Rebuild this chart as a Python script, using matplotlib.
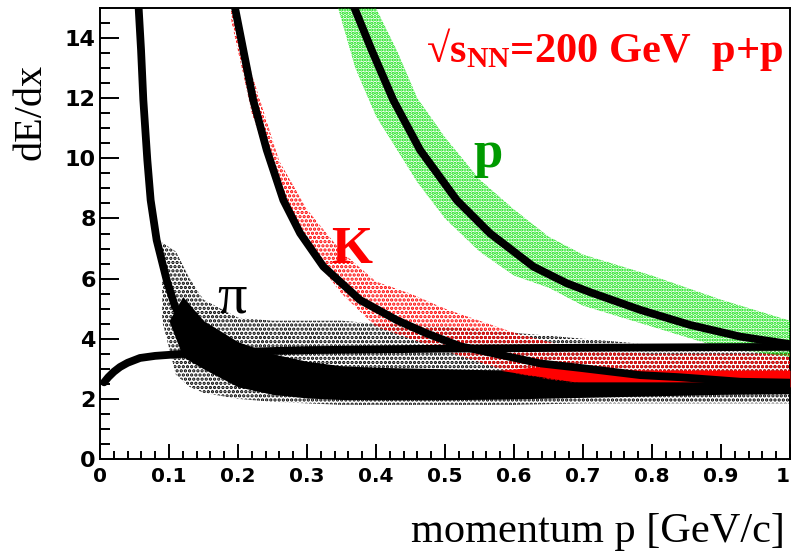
import matplotlib
matplotlib.use("Agg")
import matplotlib.pyplot as plt
from matplotlib.ticker import MultipleLocator, FuncFormatter

# ---------------- data ----------------
# expected dE/dx curves (momentum GeV/c, dE/dx)
e_p = [0.006, 0.012, 0.02, 0.029, 0.04, 0.058, 0.08, 0.116, 0.193, 0.30, 0.50, 0.70, 1.00]
e_y = [2.55, 2.72, 2.90, 3.06, 3.20, 3.36, 3.43, 3.49, 3.56, 3.62, 3.67, 3.70, 3.73]

pi_p = [0.0555, 0.0595, 0.0628, 0.0686, 0.0734, 0.0821, 0.0966, 0.1087, 0.1256, 0.140,
        0.155, 0.175, 0.20, 0.25, 0.30, 0.40, 0.50, 0.70, 1.00]
pi_y = [15.2, 13.6, 11.94, 9.94, 8.61, 7.28, 5.95, 5.07, 4.41, 4.07,
        3.72, 3.35, 3.05, 2.78, 2.62, 2.50, 2.45, 2.42, 2.42]

k_p = [0.194, 0.2077, 0.222, 0.2416, 0.2657, 0.290, 0.3237, 0.3768, 0.430, 0.473,
       0.522, 0.638, 0.696, 0.783, 0.84, 0.928, 1.00]
k_y = [15.2, 13.6, 11.94, 10.28, 8.61, 7.51, 6.40, 5.29, 4.62, 4.18,
       3.75, 3.18, 3.03, 2.79, 2.72, 2.57, 2.54]

pr_p = [0.367, 0.3937, 0.425, 0.4638, 0.517, 0.565, 0.628, 0.676, 0.710, 0.783,
        0.855, 0.928, 1.00]
pr_y = [15.1, 13.6, 11.94, 10.28, 8.61, 7.51, 6.40, 5.85, 5.55, 4.96,
        4.46, 4.07, 3.82]

# measured bands (lower / upper edges of the point clouds)
pib_p = [0.09, 0.11, 0.13, 0.15, 0.20, 0.25, 0.30, 0.35, 0.40, 0.50, 0.60, 0.70, 0.80, 0.90, 1.00]
pi_halo_lo = [4.6, 2.8, 2.4, 2.2, 2.0, 1.9, 1.85, 1.8, 1.8, 1.8, 1.8, 1.85, 1.85, 1.85, 1.85]
pi_halo_hi = [7.2, 6.9, 6.0, 5.3, 4.7, 4.6, 4.6, 4.6, 4.5, 4.4, 4.2, 4.0, 3.8, 3.6, 3.6]
pic_p = [0.10, 0.12, 0.15, 0.20, 0.25, 0.30, 0.35, 0.40, 0.50, 0.60, 0.70, 0.80, 0.90, 1.00]
pi_core_lo = [4.6, 3.4, 3.0, 2.4, 2.15, 2.03, 1.98, 1.97, 1.97, 2.0, 2.05, 2.1, 2.15, 2.17]
pi_core_hi = [4.6, 5.4, 4.6, 3.9, 3.5, 3.25, 3.1, 3.05, 3.0, 2.95, 2.85, 2.75, 2.7, 2.7]

kb_p = [0.19, 0.22, 0.26, 0.30, 0.35, 0.40, 0.45, 0.50, 0.60, 0.70, 0.80, 0.90, 1.00]
k_lo = [14.6, 11.5, 8.8, 7.0, 5.5, 4.4, 4.0, 3.6, 2.85, 2.45, 2.38, 2.35, 2.35]
k_hi = [15.5, 12.8, 9.9, 8.3, 6.9, 5.9, 5.5, 5.0, 4.2, 3.6, 3.5, 3.5, 3.5]
kc_p = [0.58, 0.65, 0.72, 0.80, 0.90, 1.00]
kc_lo = [2.95, 2.7, 2.45, 2.42, 2.4, 2.4]
kc_hi = [2.95, 3.1, 3.0, 2.95, 2.95, 2.95]

pb_p = [0.345, 0.37, 0.40, 0.43, 0.46, 0.50, 0.55, 0.60, 0.65, 0.70, 0.80, 0.90, 1.00]
p_lo = [15.0, 13.0, 11.4, 10.3, 9.2, 8.0, 6.9, 6.1, 5.7, 5.1, 4.4, 3.7, 3.4]
p_hi = [15.5, 15.4, 15.0, 13.6, 12.0, 10.7, 9.3, 8.3, 7.4, 6.8, 6.1, 5.3, 4.6]

x_ticks = [0, 0.1, 0.2, 0.3, 0.4, 0.5, 0.6, 0.7, 0.8, 0.9, 1.0]
y_ticks = [0, 2, 4, 6, 8, 10, 12, 14]

# ---------------- figure ----------------
plt.rcParams['hatch.linewidth'] = 1.6
plt.rcParams['mathtext.fontset'] = 'custom'
plt.rcParams['mathtext.rm'] = 'Liberation Serif:bold'
plt.rcParams['mathtext.it'] = 'Liberation Serif:bold'
plt.rcParams['mathtext.bf'] = 'Liberation Serif:bold'

fig = plt.figure(figsize=(7.93, 5.52), dpi=100)
W, H = 793, 552
ax = fig.add_axes([100 / W, 1 - 459 / H, 690 / W, 451 / H])
ax.set_xlim(0, 1)
ax.set_ylim(0, 15)

# pion cloud
ax.fill_between(pib_p, pi_halo_lo, pi_halo_hi, facecolor='none', edgecolor='black',
                hatch='....', linewidth=0, zorder=1)
ax.fill_between(pic_p, pi_core_lo, pi_core_hi, facecolor='black', edgecolor='black',
                linewidth=0, zorder=2)
# kaon cloud
ax.fill_between(kb_p, k_lo, k_hi, facecolor='none', edgecolor='#ff0000',
                hatch='....', linewidth=0, zorder=3)
ax.fill_between(kc_p, kc_lo, kc_hi, facecolor='#ff0000', edgecolor='#ff0000',
                linewidth=0, zorder=3)
# proton cloud
ax.fill_between(pb_p, p_lo, p_hi, facecolor='none', edgecolor='#00e000',
                hatch='.....', linewidth=0, zorder=3)

# expected curves
lw = 5.6
for px, py in [(e_p, e_y), (pi_p, pi_y), (k_p, k_y), (pr_p, pr_y)]:
    ax.plot(px, py, color='black', lw=lw, solid_capstyle='round',
            solid_joinstyle='round', zorder=5)

# labels inside the plot
serif = 'Liberation Serif'
ax.text(0.99, 13.2, '√s$_{\\mathrm{NN}}$=200 GeV  p+p', color='#ff0000', fontsize=30.5,
        fontweight='bold', family=serif, ha='right', va='baseline', zorder=6)
ax.text(0.364, 6.52, 'K', color='#ff0000', fontsize=38, fontweight='bold', family=serif,
        ha='center', va='baseline', zorder=6)
ax.text(0.562, 9.71, 'p', color='#009a00', fontsize=38, fontweight='bold', family=serif,
        ha='center', va='baseline', zorder=6)
ax.text(0.191, 4.86, 'π', color='black', fontsize=42, family=serif,
        ha='center', va='baseline', zorder=6)

# axes styling
ax.set_xticks(x_ticks)
ax.set_yticks(y_ticks)
ax.xaxis.set_minor_locator(MultipleLocator(0.02))
ax.yaxis.set_minor_locator(MultipleLocator(0.5))
fmt = FuncFormatter(lambda v, pos: ('%g' % round(v, 2)))
ax.xaxis.set_major_formatter(fmt)
ax.yaxis.set_major_formatter(fmt)
ax.tick_params(axis='both', which='both', direction='in', top=False, right=False, width=1.4)
ax.tick_params(axis='y', which='major', length=13.5, pad=3)
ax.tick_params(axis='y', which='minor', length=7)
ax.tick_params(axis='x', which='major', length=11, pad=6)
ax.tick_params(axis='x', which='minor', length=6)
for lab in ax.get_yticklabels():
    lab.set_family('DejaVu Sans')
    lab.set_fontweight('bold')
    lab.set_fontsize(16)
xl = ax.get_xticklabels()
for lab in xl:
    lab.set_family('DejaVu Sans')
    lab.set_fontweight('bold')
    lab.set_fontsize(14.5)
xl[-1].set_horizontalalignment('right')
for s in ax.spines.values():
    s.set_linewidth(1.4)

fig.text(31 / W, 1 - 112 / H, 'dE/dx', rotation=90, family=serif, fontsize=29,
         ha='center', va='center')
fig.text(785 / W, 1 - 542 / H, 'momentum p [GeV/c]', family=serif, fontsize=30.5,
         ha='right', va='baseline')

fig.savefig('out.png', dpi=100)
